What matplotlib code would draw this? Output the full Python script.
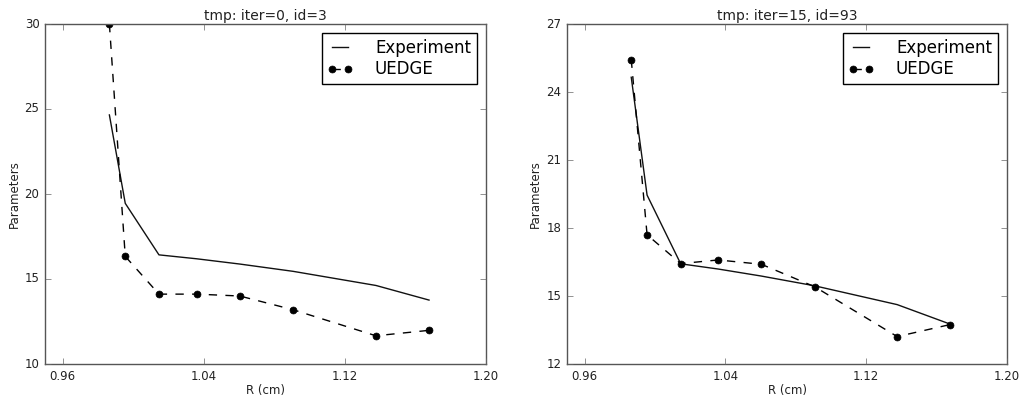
import matplotlib
matplotlib.use('Agg')
import matplotlib.pyplot as plt
from matplotlib.ticker import FormatStrFormatter

plt.style.use('classic')
plt.rcParams['font.family'] = ['DejaVu Sans']

# Data
r_cm = [0.9865, 0.9955, 1.0146, 1.0359, 1.0604, 1.0907, 1.1376, 1.1677]
experiment = [24.65, 19.45, 16.42, 16.19, 15.88, 15.45, 14.62, 13.76]
uedge_iter0 = [30.0, 16.33, 14.11, 14.11, 14.0, 13.19, 11.66, 11.98]
uedge_iter15 = [25.43, 17.70, 16.43, 16.59, 16.40, 15.41, 13.21, 13.74]

titles = ["tmp: iter=0, id=3", "tmp: iter=15, id=93"]
x_ticks = [0.96, 1.04, 1.12, 1.20]
y_ticks_left = [10, 15, 20, 25, 30]
y_ticks_right = [12, 15, 18, 21, 24, 27]

fig = plt.figure(figsize=(10.2, 3.96), dpi=100, facecolor='white')
W, H = 1020, 396
ax1 = fig.add_axes([45 / W, 1 - 364 / H, (486 - 45) / W, (364 - 24) / H])
ax2 = fig.add_axes([567 / W, 1 - 364 / H, (1007 - 567) / W, (364 - 24) / H])

panels = [
    (ax1, uedge_iter0, titles[0], y_ticks_left),
    (ax2, uedge_iter15, titles[1], y_ticks_right),
]

for ax, uedge, title, yt in panels:
    ax.plot(r_cm, experiment, '-', color='#111111', lw=1.0, label='Experiment')
    ax.plot(r_cm, uedge, '--', color='black', lw=1.0, marker='o',
            markersize=5, markerfacecolor='black', markeredgecolor='black',
            label='UEDGE')
    ax.set_xlim(0.95, 1.20)
    ax.set_ylim(yt[0], yt[-1])
    ax.set_xticks(x_ticks)
    ax.set_yticks(yt)
    ax.xaxis.set_major_formatter(FormatStrFormatter('%.2f'))
    ax.tick_params(labelsize=8.5, direction='in', top=True, right=True,
                   length=4, color='#666666', labelcolor='#222222')
    for s in ax.spines.values():
        s.set_color('#555555')
        s.set_linewidth(1.0)
    ax.set_title(title, fontsize=10, pad=3, color='#222222')
    ax.set_xlabel('R (cm)', fontsize=8.5, labelpad=1.0, color='#222222')
    ax.set_ylabel('Parameters', fontsize=8.5, labelpad=3, color='#222222')
    leg = ax.legend(loc='upper right', fontsize=12, numpoints=2,
                    fancybox=False, borderaxespad=0.55, handlelength=1.55,
                    handletextpad=1.3, labelspacing=0.2, borderpad=0.35)
    leg.get_frame().set_edgecolor('black')
    leg.get_frame().set_linewidth(1.0)

fig.savefig('out.png', dpi=100, facecolor='white')
